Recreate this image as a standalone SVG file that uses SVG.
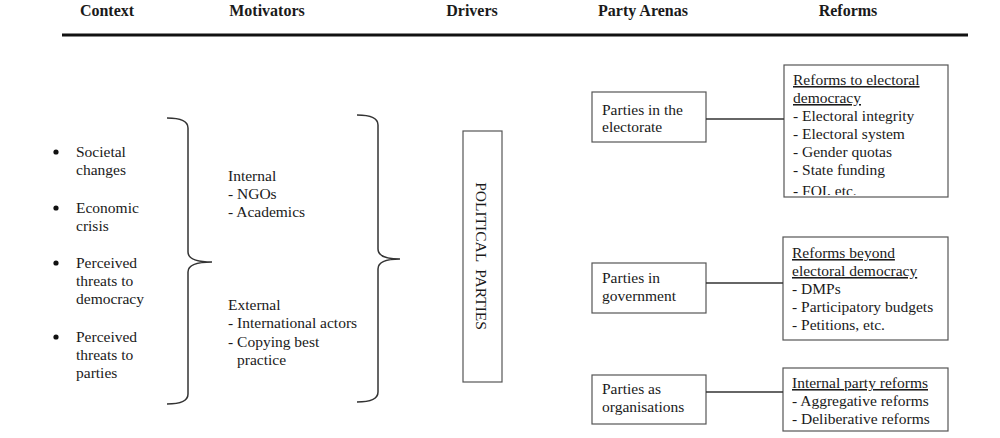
<svg xmlns="http://www.w3.org/2000/svg" width="1000" height="438" viewBox="0 0 1000 438">
<style>
text{font-family:"Liberation Serif","Times New Roman",serif;fill:#1a1a1a}
.h{font-size:16px;font-weight:bold}
.t{font-size:15.5px}
.u{text-decoration:underline}
.box{fill:#fff;stroke:#555;stroke-width:1.2}
.con{stroke:#333;stroke-width:1.5;fill:none}
.br{stroke:#333;stroke-width:1.5;fill:none}
</style>
<defs>
<clipPath id="c1"><rect x="784" y="65" width="164" height="130"/></clipPath>
</defs>
<rect width="1000" height="438" fill="#fff"/>
<g id="headers">
<text class="h" x="107" y="16" text-anchor="middle">Context</text>
<text class="h" x="267" y="16" text-anchor="middle">Motivators</text>
<text class="h" x="472" y="16" text-anchor="middle">Drivers</text>
<text class="h" x="643" y="16" text-anchor="middle">Party Arenas</text>
<text class="h" x="848" y="16" text-anchor="middle">Reforms</text>
<line x1="62" y1="35" x2="968" y2="35" stroke="#111" stroke-width="3"/>
</g>
<g id="context">
<circle cx="56" cy="152" r="2.6" fill="#111"/>
<circle cx="56" cy="208" r="2.6" fill="#111"/>
<circle cx="56" cy="263" r="2.6" fill="#111"/>
<circle cx="56" cy="337" r="2.6" fill="#111"/>
<text class="t" x="76" y="157">Societal</text>
<text class="t" x="76" y="175">changes</text>
<text class="t" x="76" y="213">Economic</text>
<text class="t" x="76" y="231">crisis</text>
<text class="t" x="76" y="268">Perceived</text>
<text class="t" x="76" y="286">threats to</text>
<text class="t" x="76" y="304">democracy</text>
<text class="t" x="76" y="342">Perceived</text>
<text class="t" x="76" y="360">threats to</text>
<text class="t" x="76" y="378">parties</text>
</g>
<g id="bracket1">
<path class="br" d="M167,118 Q188,118 188,128 L188,252 Q188,262 212,262 Q188,262 188,272 L188,394 Q188,404 167,404"/>
</g>
<g id="motivators">
<text class="t" x="228" y="181">Internal</text>
<text class="t" x="228" y="199">- NGOs</text>
<text class="t" x="228" y="217">- Academics</text>
<text class="t" x="228" y="310">External</text>
<text class="t" x="228" y="328">- International actors</text>
<text class="t" x="228" y="347">- Copying best</text>
<text class="t" x="237" y="365">practice</text>
</g>
<g id="bracket2">
<path class="br" d="M357,115 Q378,115 378,125 L378,249 Q378,259 400,259 Q378,259 378,269 L378,392 Q378,402 357,402"/>
</g>
<g id="drivers">
<rect class="box" x="463" y="131" width="39" height="251"/>
<text class="t" x="0" y="0" text-anchor="middle" dominant-baseline="central" transform="translate(481,256) rotate(90)" xml:space="preserve">POLITICAL  PARTIES</text>
</g>
<g id="arena1">
<rect class="box" x="592" y="92" width="114" height="50"/>
<text class="t" x="602" y="115">Parties in the</text>
<text class="t" x="602" y="132">electorate</text>
</g>
<g id="arena2">
<rect class="box" x="592" y="263" width="114" height="50"/>
<text class="t" x="602" y="283">Parties in</text>
<text class="t" x="602" y="301">government</text>
</g>
<g id="arena3">
<rect class="box" x="592" y="375" width="114" height="49"/>
<text class="t" x="602" y="394">Parties as</text>
<text class="t" x="602" y="412">organisations</text>
</g>
<g id="reform1">
<rect class="box" x="784" y="65" width="164" height="132"/>
<g clip-path="url(#c1)">
<text class="t u" x="793" y="85">Reforms to electoral</text>
<text class="t u" x="793" y="103">democracy</text>
<text class="t" x="793" y="121">- Electoral integrity</text>
<text class="t" x="793" y="139">- Electoral system</text>
<text class="t" x="793" y="157">- Gender quotas</text>
<text class="t" x="793" y="175">- State funding</text>
<text class="t" x="793" y="196">- FOI, etc.</text>
</g>
</g>
<g id="reform2">
<rect class="box" x="783" y="237" width="165" height="103"/>
<text class="t u" x="792" y="258">Reforms beyond</text>
<text class="t u" x="792" y="276">electoral democracy</text>
<text class="t" x="792" y="294">- DMPs</text>
<text class="t" x="792" y="312">- Participatory budgets</text>
<text class="t" x="792" y="330">- Petitions, etc.</text>
</g>
<g id="reform3">
<rect class="box" x="783" y="368" width="165" height="63"/>
<text class="t u" x="792" y="388">Internal party reforms</text>
<text class="t" x="792" y="406">- Aggregative reforms</text>
<text class="t" x="792" y="424">- Deliberative reforms</text>
</g>
<g id="connectors">
<line class="con" x1="706" y1="119" x2="784" y2="119"/>
<line class="con" x1="706" y1="283" x2="783" y2="283"/>
<line class="con" x1="706" y1="392" x2="783" y2="392"/>
</g>
</svg>
